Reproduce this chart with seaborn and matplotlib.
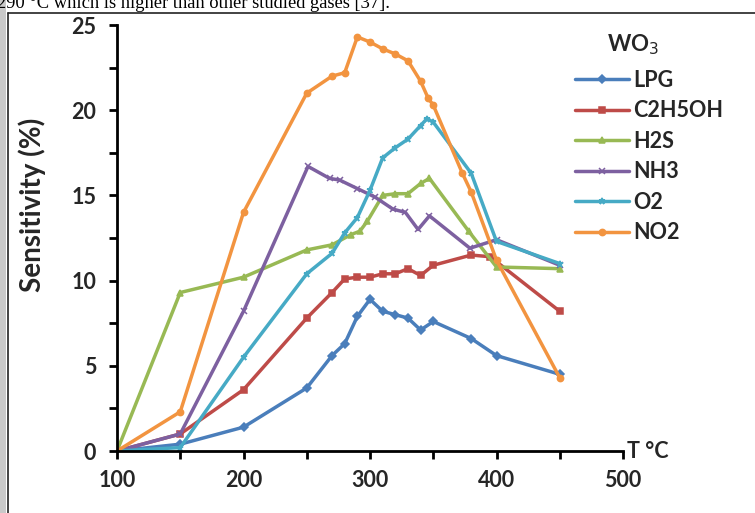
import numpy as np
import pandas as pd
import matplotlib
matplotlib.use("Agg")
import matplotlib.pyplot as plt
import seaborn as sns
from matplotlib.ticker import MultipleLocator
from matplotlib.patches import Rectangle
from matplotlib.lines import Line2D

# ---------------- data ----------------
series_names = ["LPG", "C2H5OH", "H2S", "NH3", "O2", "NO2"]

lpg_x = [100, 150, 200, 250, 270, 280, 290, 300, 310, 320, 330, 340, 350, 380, 400, 450]
lpg_y = [0, 0.4, 1.4, 3.7, 5.6, 6.3, 7.9, 8.9, 8.2, 8.0, 7.8, 7.1, 7.6, 6.6, 5.6, 4.5]

c2h5oh_x = [100, 150, 200, 250, 270, 280, 290, 300, 310, 320, 330, 340, 350, 380, 395, 450]
c2h5oh_y = [0, 1.0, 3.6, 7.8, 9.3, 10.1, 10.2, 10.2, 10.4, 10.4, 10.7, 10.3, 10.9, 11.5, 11.4, 8.2]

h2s_x = [100, 150, 200, 250, 270, 285, 292, 298, 310, 320, 330, 340, 347, 378, 400, 450]
h2s_y = [0, 9.3, 10.2, 11.8, 12.1, 12.7, 12.9, 13.5, 15.0, 15.1, 15.1, 15.7, 16.0, 12.9, 10.8, 10.7]

nh3_x = [100, 150, 200, 251, 268, 276, 290, 304, 318, 328, 338, 347, 379, 400, 450]
nh3_y = [0, 1.0, 8.2, 16.7, 16.0, 15.9, 15.4, 14.9, 14.2, 14.0, 13.0, 13.8, 11.9, 12.4, 10.9]

o2_x = [100, 150, 200, 250, 270, 280, 290, 300, 310, 320, 330, 340, 345, 350, 380, 400, 450]
o2_y = [0, 0.2, 5.5, 10.4, 11.6, 12.8, 13.7, 15.3, 17.2, 17.8, 18.3, 19.1, 19.5, 19.3, 16.3, 12.3, 11.0]

no2_x = [100, 150, 200, 250, 270, 280, 290, 300, 310, 320, 330, 340, 346, 350, 373, 380, 400, 450]
no2_y = [0, 2.3, 14.0, 21.0, 22.0, 22.2, 24.3, 24.0, 23.6, 23.3, 22.9, 21.7, 20.7, 20.3, 16.3, 15.2, 11.2, 4.3]

x_ticks = [100, 200, 300, 400, 500]
y_ticks = [0, 5, 10, 15, 20, 25]

series_x = [lpg_x, c2h5oh_x, h2s_x, nh3_x, o2_x, no2_x]
series_y = [lpg_y, c2h5oh_y, h2s_y, nh3_y, o2_y, no2_y]

colors = ["#4A7EBB", "#BE4B48", "#98B954", "#7D60A0", "#46AAC5", "#F29440"]
markers = ["D", "s", "^", "x", "*", "o"]

# ---------------- figure ----------------
sns.set_style("white")
plt.rcParams["font.family"] = ["Lato", "DejaVu Sans"]

W, H = 755, 513
fig = plt.figure(figsize=(7.55, 5.13), dpi=100)
fig.patch.set_facecolor("white")
ax = fig.add_axes([117 / W, 1 - 451 / H, (623 - 117) / W, (451 - 25) / H])

# page background strip and chart frame
fig.patches.append(Rectangle((0, 0), 6 / W, 1, transform=fig.transFigure,
                             facecolor="#c9c9c9", edgecolor="none", zorder=0))
fig.lines.append(Line2D([8 / W, 8 / W], [0, 1 - 13 / H], transform=fig.transFigure,
                        color="#222222", lw=1.2))
fig.lines.append(Line2D([8 / W, 1], [1 - 13 / H, 1 - 13 / H], transform=fig.transFigure,
                        color="#222222", lw=1.2))
fig.text(-0.004, 1 - 8 / H, "290 °C which is higher than other studied gases [37].",
         family=["Liberation Serif"], fontsize=13.3, va="baseline", ha="left", color="black")

for name, xs, ys, c, m in zip(series_names, series_x, series_y, colors, markers):
    df = pd.DataFrame({"T": xs, "S": ys})
    sns.lineplot(data=df, x="T", y="S", ax=ax, color=c, marker=m, markersize=4.5,
                 markeredgecolor=c, markeredgewidth=1.1, linewidth=2.5, label=name,
                 sort=False)

ax.set_xlim(100, 500)
ax.set_ylim(0, 25)
ax.set_xticks(x_ticks)
ax.set_yticks(y_ticks)
ax.xaxis.set_minor_locator(MultipleLocator(50))
ax.yaxis.set_minor_locator(MultipleLocator(2.5))
ax.tick_params(axis="both", which="both", direction="out", length=6, width=2,
               color="black", bottom=True, left=True)
ax.tick_params(axis="x", which="major", pad=8, labelsize=15.5)
ax.tick_params(axis="y", which="major", pad=9, labelsize=15.5)
for lab in ax.get_xticklabels() + ax.get_yticklabels():
    lab.set_fontweight("bold")
    lab.set_color("#262626")
for s in ["top", "right"]:
    ax.spines[s].set_visible(False)
for s in ["left", "bottom"]:
    ax.spines[s].set_linewidth(2)
    ax.spines[s].set_color("black")
ax.set_xlabel("")
ax.set_ylabel("")
ax.grid(False)

fig.text(32 / W, 1 - 205 / H, "Sensitivity (%)", rotation=90, ha="center", va="center",
         fontsize=20, fontweight="bold", color="#262626")
fig.text(648 / W, 1 - 452 / H, "T °C", ha="center", va="center",
         fontsize=15.5, fontweight="bold", color="#262626")
fig.text(633 / W, 1 - 45 / H, "WO$_3$", ha="center", va="center",
         fontsize=16, fontweight="bold", color="#262626")

leg = ax.legend(loc="upper left", bbox_to_anchor=(575 / W, 1 - 70 / H),
                bbox_transform=fig.transFigure, frameon=False,
                prop={"size": 15.5, "weight": "bold"}, handlelength=2.5,
                handletextpad=0.2, labelspacing=0.44, borderaxespad=0, borderpad=0)
for t in leg.get_texts():
    t.set_color("#262626")

fig.savefig("out.png", dpi=100)
